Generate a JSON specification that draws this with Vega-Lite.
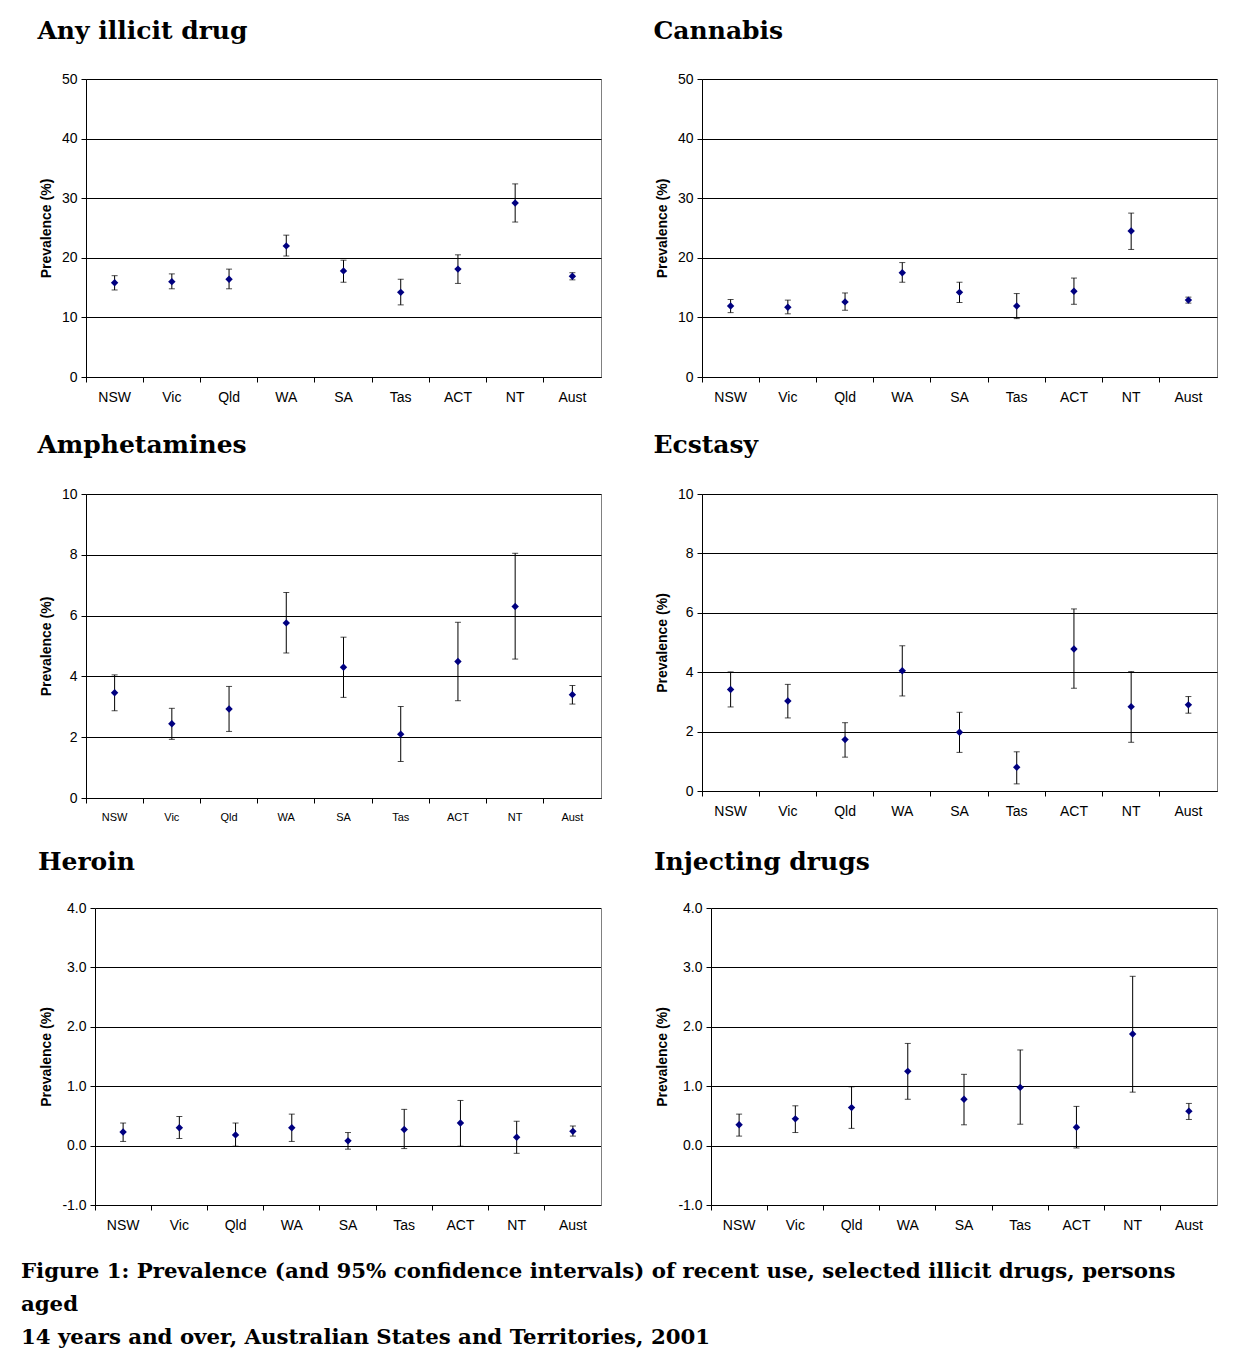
{
  "$schema": "https://vega.github.io/schema/vega-lite/v6.json",
  "background": "white",
  "padding": {"left": 20, "top": 18, "right": 0, "bottom": 0},
  "data": {"values": [
    {"drug": "Any illicit drug", "state": "NSW", "value": 15.8, "low": 14.6, "high": 17.0},
    {"drug": "Any illicit drug", "state": "Vic", "value": 16.0, "low": 14.8, "high": 17.3},
    {"drug": "Any illicit drug", "state": "Qld", "value": 16.4, "low": 14.8, "high": 18.1},
    {"drug": "Any illicit drug", "state": "WA", "value": 22.0, "low": 20.3, "high": 23.8},
    {"drug": "Any illicit drug", "state": "SA", "value": 17.8, "low": 15.9, "high": 19.6},
    {"drug": "Any illicit drug", "state": "Tas", "value": 14.2, "low": 12.1, "high": 16.4},
    {"drug": "Any illicit drug", "state": "ACT", "value": 18.1, "low": 15.7, "high": 20.5},
    {"drug": "Any illicit drug", "state": "NT", "value": 29.2, "low": 26.0, "high": 32.4},
    {"drug": "Any illicit drug", "state": "Aust", "value": 16.9, "low": 16.3, "high": 17.5},
    {"drug": "Cannabis", "state": "NSW", "value": 11.9, "low": 10.8, "high": 13.0},
    {"drug": "Cannabis", "state": "Vic", "value": 11.7, "low": 10.6, "high": 12.9},
    {"drug": "Cannabis", "state": "Qld", "value": 12.6, "low": 11.2, "high": 14.1},
    {"drug": "Cannabis", "state": "WA", "value": 17.5, "low": 15.9, "high": 19.2},
    {"drug": "Cannabis", "state": "SA", "value": 14.2, "low": 12.5, "high": 15.9},
    {"drug": "Cannabis", "state": "Tas", "value": 11.9, "low": 9.8, "high": 14.0},
    {"drug": "Cannabis", "state": "ACT", "value": 14.4, "low": 12.2, "high": 16.6},
    {"drug": "Cannabis", "state": "NT", "value": 24.5, "low": 21.4, "high": 27.5},
    {"drug": "Cannabis", "state": "Aust", "value": 12.9, "low": 12.4, "high": 13.4},
    {"drug": "Amphetamines", "state": "NSW", "value": 3.46, "low": 2.87, "high": 4.05},
    {"drug": "Amphetamines", "state": "Vic", "value": 2.44, "low": 1.93, "high": 2.95},
    {"drug": "Amphetamines", "state": "Qld", "value": 2.93, "low": 2.19, "high": 3.67},
    {"drug": "Amphetamines", "state": "WA", "value": 5.76, "low": 4.77, "high": 6.76},
    {"drug": "Amphetamines", "state": "SA", "value": 4.30, "low": 3.31, "high": 5.29},
    {"drug": "Amphetamines", "state": "Tas", "value": 2.10, "low": 1.20, "high": 3.01},
    {"drug": "Amphetamines", "state": "ACT", "value": 4.49, "low": 3.20, "high": 5.78},
    {"drug": "Amphetamines", "state": "NT", "value": 6.30, "low": 4.57, "high": 8.05},
    {"drug": "Amphetamines", "state": "Aust", "value": 3.40, "low": 3.09, "high": 3.70},
    {"drug": "Ecstasy", "state": "NSW", "value": 3.42, "low": 2.83, "high": 4.01},
    {"drug": "Ecstasy", "state": "Vic", "value": 3.03, "low": 2.46, "high": 3.59},
    {"drug": "Ecstasy", "state": "Qld", "value": 1.73, "low": 1.14, "high": 2.30},
    {"drug": "Ecstasy", "state": "WA", "value": 4.05, "low": 3.20, "high": 4.89},
    {"drug": "Ecstasy", "state": "SA", "value": 1.98, "low": 1.30, "high": 2.65},
    {"drug": "Ecstasy", "state": "Tas", "value": 0.80, "low": 0.24, "high": 1.32},
    {"drug": "Ecstasy", "state": "ACT", "value": 4.78, "low": 3.46, "high": 6.13},
    {"drug": "Ecstasy", "state": "NT", "value": 2.84, "low": 1.64, "high": 4.02},
    {"drug": "Ecstasy", "state": "Aust", "value": 2.90, "low": 2.62, "high": 3.18},
    {"drug": "Heroin", "state": "NSW", "value": 0.23, "low": 0.07, "high": 0.38},
    {"drug": "Heroin", "state": "Vic", "value": 0.30, "low": 0.12, "high": 0.49},
    {"drug": "Heroin", "state": "Qld", "value": 0.18, "low": -0.01, "high": 0.38},
    {"drug": "Heroin", "state": "WA", "value": 0.30, "low": 0.07, "high": 0.53},
    {"drug": "Heroin", "state": "SA", "value": 0.08, "low": -0.06, "high": 0.22},
    {"drug": "Heroin", "state": "Tas", "value": 0.27, "low": -0.05, "high": 0.61},
    {"drug": "Heroin", "state": "ACT", "value": 0.38, "low": -0.01, "high": 0.76},
    {"drug": "Heroin", "state": "NT", "value": 0.14, "low": -0.13, "high": 0.41},
    {"drug": "Heroin", "state": "Aust", "value": 0.24, "low": 0.16, "high": 0.33},
    {"drug": "Injecting drugs", "state": "NSW", "value": 0.35, "low": 0.16, "high": 0.53},
    {"drug": "Injecting drugs", "state": "Vic", "value": 0.45, "low": 0.22, "high": 0.67},
    {"drug": "Injecting drugs", "state": "Qld", "value": 0.64, "low": 0.29, "high": 0.99},
    {"drug": "Injecting drugs", "state": "WA", "value": 1.25, "low": 0.78, "high": 1.72},
    {"drug": "Injecting drugs", "state": "SA", "value": 0.78, "low": 0.35, "high": 1.20},
    {"drug": "Injecting drugs", "state": "Tas", "value": 0.98, "low": 0.36, "high": 1.61},
    {"drug": "Injecting drugs", "state": "ACT", "value": 0.31, "low": -0.04, "high": 0.66},
    {"drug": "Injecting drugs", "state": "NT", "value": 1.88, "low": 0.90, "high": 2.85},
    {"drug": "Injecting drugs", "state": "Aust", "value": 0.58, "low": 0.44, "high": 0.71}
  ]},
  "title": {
    "text": ["Figure 1: Prevalence (and 95% confidence intervals) of recent use, selected illicit drugs, persons", "aged", "14 years and over, Australian States and Territories, 2001"],
    "orient": "bottom", "anchor": "start", "frame": "bounds", "dx": -16, "offset": 29,
    "font": "DejaVu Serif", "fontSize": 21.3, "fontWeight": "bold", "lineHeight": 33, "color": "black"
  },
  "columns": 2,
  "align": "each",
  "spacing": {"row": 27, "column": 50},
  "concat": [
      {"width": 515, "height": 298, "title": {"text": "Any illicit drug", "dx": -2},
       "transform": [{"filter": {"field": "drug", "equal": "Any illicit drug"}}],
       "encoding": {"x": {"field": "state", "type": "nominal", "title": null, "sort": ["NSW","Vic","Qld","WA","SA","Tas","ACT","NT","Aust"], "scale": {"type": "band", "paddingInner": 0, "paddingOuter": 0}, "axis": {"bandPosition": 0, "labelAngle": 0, "labelPadding": 8}}},
       "layer": [
         {"mark": {"type": "rule", "color": "black", "strokeWidth": 1}, "encoding": {"y": {"field": "low", "type": "quantitative", "title": "Prevalence (%)", "scale": {"domain": [0, 50], "nice": false}, "axis": {"values": [0,10,20,30,40,50]}}, "y2": {"field": "high"}}},
         {"mark": {"type": "tick", "color": "black", "size": 6, "thickness": 1}, "encoding": {"y": {"field": "low", "type": "quantitative", "title": "Prevalence (%)"}}},
         {"mark": {"type": "tick", "color": "black", "size": 6, "thickness": 1}, "encoding": {"y": {"field": "high", "type": "quantitative", "title": "Prevalence (%)"}}},
         {"mark": {"type": "point", "shape": "diamond", "filled": true, "color": "#000080", "opacity": 1, "size": 55}, "encoding": {"y": {"field": "value", "type": "quantitative", "title": "Prevalence (%)"}}}
       ]},
      {"width": 515, "height": 298, "title": {"text": "Cannabis", "dx": -2},
       "transform": [{"filter": {"field": "drug", "equal": "Cannabis"}}],
       "encoding": {"x": {"field": "state", "type": "nominal", "title": null, "sort": ["NSW","Vic","Qld","WA","SA","Tas","ACT","NT","Aust"], "scale": {"type": "band", "paddingInner": 0, "paddingOuter": 0}, "axis": {"bandPosition": 0, "labelAngle": 0, "labelPadding": 8}}},
       "layer": [
         {"mark": {"type": "rule", "color": "black", "strokeWidth": 1}, "encoding": {"y": {"field": "low", "type": "quantitative", "title": "Prevalence (%)", "scale": {"domain": [0, 50], "nice": false}, "axis": {"values": [0,10,20,30,40,50]}}, "y2": {"field": "high"}}},
         {"mark": {"type": "tick", "color": "black", "size": 6, "thickness": 1}, "encoding": {"y": {"field": "low", "type": "quantitative", "title": "Prevalence (%)"}}},
         {"mark": {"type": "tick", "color": "black", "size": 6, "thickness": 1}, "encoding": {"y": {"field": "high", "type": "quantitative", "title": "Prevalence (%)"}}},
         {"mark": {"type": "point", "shape": "diamond", "filled": true, "color": "#000080", "opacity": 1, "size": 55}, "encoding": {"y": {"field": "value", "type": "quantitative", "title": "Prevalence (%)"}}}
       ]},
      {"width": 515, "height": 304, "title": {"text": "Amphetamines", "dx": -2, "offset": 29},
       "transform": [{"filter": {"field": "drug", "equal": "Amphetamines"}}],
       "encoding": {"x": {"field": "state", "type": "nominal", "title": null, "sort": ["NSW","Vic","Qld","WA","SA","Tas","ACT","NT","Aust"], "scale": {"type": "band", "paddingInner": 0, "paddingOuter": 0}, "axis": {"bandPosition": 0, "labelAngle": 0, "labelPadding": 8, "labelFontSize": 11}}},
       "layer": [
         {"mark": {"type": "rule", "color": "black", "strokeWidth": 1}, "encoding": {"y": {"field": "low", "type": "quantitative", "title": "Prevalence (%)", "scale": {"domain": [0, 10], "nice": false}, "axis": {"values": [0,2,4,6,8,10]}}, "y2": {"field": "high"}}},
         {"mark": {"type": "tick", "color": "black", "size": 6, "thickness": 1}, "encoding": {"y": {"field": "low", "type": "quantitative", "title": "Prevalence (%)"}}},
         {"mark": {"type": "tick", "color": "black", "size": 6, "thickness": 1}, "encoding": {"y": {"field": "high", "type": "quantitative", "title": "Prevalence (%)"}}},
         {"mark": {"type": "point", "shape": "diamond", "filled": true, "color": "#000080", "opacity": 1, "size": 55}, "encoding": {"y": {"field": "value", "type": "quantitative", "title": "Prevalence (%)"}}}
       ]},
      {"width": 515, "height": 297, "title": {"text": "Ecstasy", "dx": -2, "offset": 29},
       "transform": [{"filter": {"field": "drug", "equal": "Ecstasy"}}],
       "encoding": {"x": {"field": "state", "type": "nominal", "title": null, "sort": ["NSW","Vic","Qld","WA","SA","Tas","ACT","NT","Aust"], "scale": {"type": "band", "paddingInner": 0, "paddingOuter": 0}, "axis": {"bandPosition": 0, "labelAngle": 0, "labelPadding": 8}}},
       "layer": [
         {"mark": {"type": "rule", "color": "black", "strokeWidth": 1}, "encoding": {"y": {"field": "low", "type": "quantitative", "title": "Prevalence (%)", "scale": {"domain": [0, 10], "nice": false}, "axis": {"values": [0,2,4,6,8,10]}}, "y2": {"field": "high"}}},
         {"mark": {"type": "tick", "color": "black", "size": 6, "thickness": 1}, "encoding": {"y": {"field": "low", "type": "quantitative", "title": "Prevalence (%)"}}},
         {"mark": {"type": "tick", "color": "black", "size": 6, "thickness": 1}, "encoding": {"y": {"field": "high", "type": "quantitative", "title": "Prevalence (%)"}}},
         {"mark": {"type": "point", "shape": "diamond", "filled": true, "color": "#000080", "opacity": 1, "size": 55}, "encoding": {"y": {"field": "value", "type": "quantitative", "title": "Prevalence (%)"}}}
       ]},
      {"width": 515, "height": 297, "title": {"text": "Heroin", "dx": -2, "offset": 26},
       "view": {"stroke": null},
       "transform": [{"filter": {"field": "drug", "equal": "Heroin"}}],
       "resolve": {"axis": {"y": "independent"}},
       "encoding": {"x": {"field": "state", "type": "nominal", "title": null, "sort": ["NSW","Vic","Qld","WA","SA","Tas","ACT","NT","Aust"], "scale": {"type": "band", "paddingInner": 0, "paddingOuter": 0, "range": [9, 515]}, "axis": {"bandPosition": 0, "labelAngle": 0, "labelPadding": 8}}},
       "layer": [
         {"mark": {"type": "rule", "color": "black", "strokeWidth": 1}, "encoding": {"y": {"field": "low", "type": "quantitative", "title": "Prevalence (%)", "scale": {"domain": [-1, 4], "nice": false}, "axis": {"offset": -9, "values": [-1,0,1,2,3,4], "labelExpr": "datum.value < 0 ? '-' + format(-datum.value, '.1f') : format(datum.value, '.1f')"}}, "y2": {"field": "high"}}},
         {"mark": {"type": "tick", "color": "black", "size": 6, "thickness": 1}, "encoding": {"y": {"field": "low", "type": "quantitative", "axis": null}}},
         {"mark": {"type": "tick", "color": "black", "size": 6, "thickness": 1}, "encoding": {"y": {"field": "high", "type": "quantitative", "axis": null}}},
         {"mark": {"type": "point", "shape": "diamond", "filled": true, "color": "#000080", "opacity": 1, "size": 55}, "encoding": {"y": {"field": "value", "type": "quantitative", "axis": {"orient": "right", "labels": false, "ticks": false, "grid": false, "title": null, "domainColor": "#808080"}}}}
       ]},
      {"width": 515, "height": 297, "title": {"text": "Injecting drugs", "dx": -2, "offset": 26},
       "view": {"stroke": null},
       "transform": [{"filter": {"field": "drug", "equal": "Injecting drugs"}}],
       "resolve": {"axis": {"y": "independent"}},
       "encoding": {"x": {"field": "state", "type": "nominal", "title": null, "sort": ["NSW","Vic","Qld","WA","SA","Tas","ACT","NT","Aust"], "scale": {"type": "band", "paddingInner": 0, "paddingOuter": 0, "range": [9, 515]}, "axis": {"bandPosition": 0, "labelAngle": 0, "labelPadding": 8}}},
       "layer": [
         {"mark": {"type": "rule", "color": "black", "strokeWidth": 1}, "encoding": {"y": {"field": "low", "type": "quantitative", "title": "Prevalence (%)", "scale": {"domain": [-1, 4], "nice": false}, "axis": {"offset": -9, "values": [-1,0,1,2,3,4], "labelExpr": "datum.value < 0 ? '-' + format(-datum.value, '.1f') : format(datum.value, '.1f')"}}, "y2": {"field": "high"}}},
         {"mark": {"type": "tick", "color": "black", "size": 6, "thickness": 1}, "encoding": {"y": {"field": "low", "type": "quantitative", "axis": null}}},
         {"mark": {"type": "tick", "color": "black", "size": 6, "thickness": 1}, "encoding": {"y": {"field": "high", "type": "quantitative", "axis": null}}},
         {"mark": {"type": "point", "shape": "diamond", "filled": true, "color": "#000080", "opacity": 1, "size": 55}, "encoding": {"y": {"field": "value", "type": "quantitative", "axis": {"orient": "right", "labels": false, "ticks": false, "grid": false, "title": null, "domainColor": "#808080"}}}}
       ]}
  ],
  "config": {
    "view": {"stroke": "#808080", "strokeWidth": 1},
    "axis": {"labelFont": "Liberation Sans", "labelFontSize": 14, "labelColor": "black", "titleFont": "Liberation Sans", "titleFontSize": 14, "titleFontWeight": "bold", "titleColor": "black", "domainColor": "black", "domainWidth": 1, "tickColor": "black", "tickWidth": 1, "tickSize": 5, "gridColor": "black", "gridOpacity": 1, "gridWidth": 1},
    "axisX": {"grid": false},
    "axisY": {"grid": true, "labelPadding": 4, "titlePadding": 8},
    "title": {"font": "DejaVu Serif", "fontSize": 25, "fontWeight": "bold", "anchor": "start", "frame": "bounds", "color": "black", "offset": 28}
  }
}
